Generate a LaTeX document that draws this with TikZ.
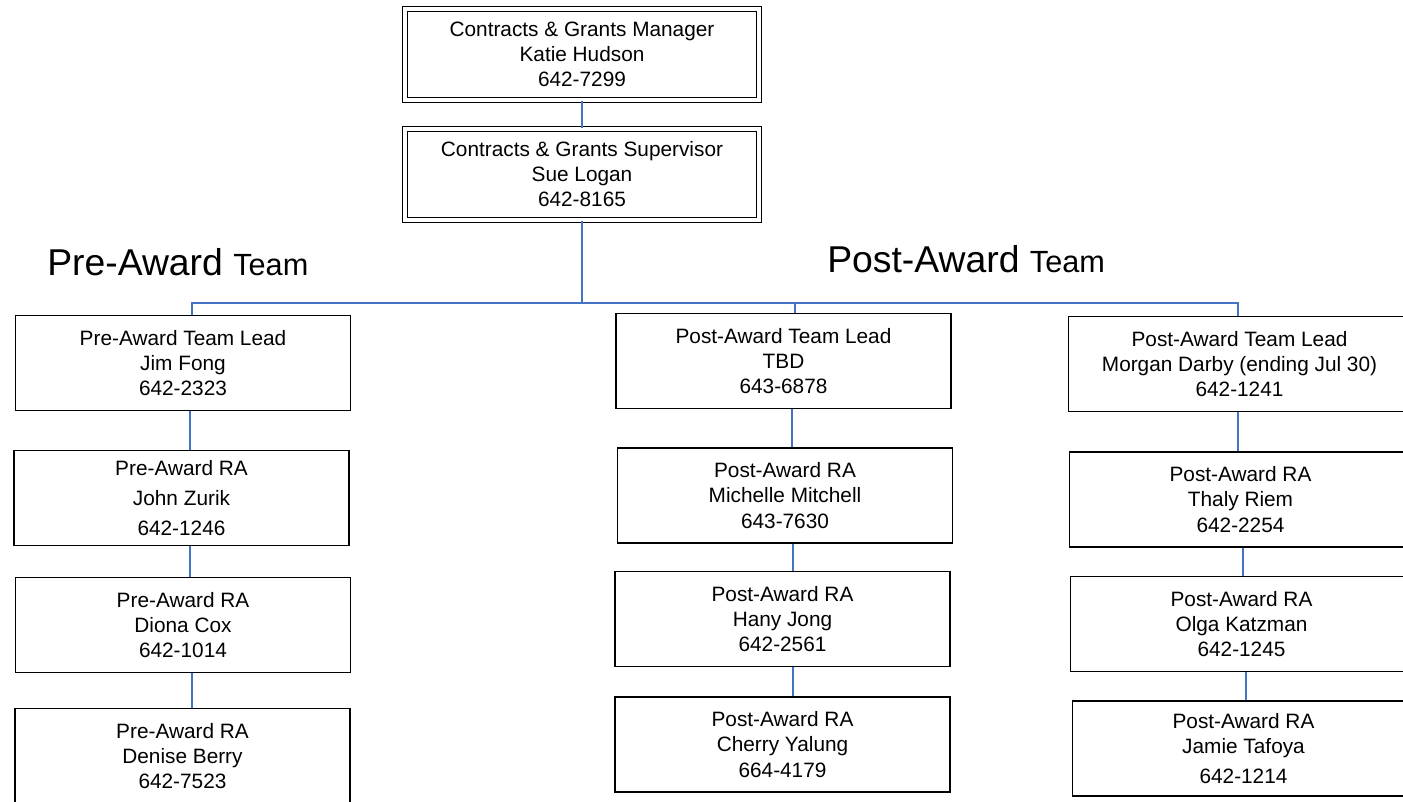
\documentclass[tikz,border=0pt]{standalone}
\usepackage{fontspec}
\setmainfont{Liberation Sans}
\definecolor{connblue}{HTML}{4472C4}
\newcommand\boxfont{\fontsize{15.6}{18.8}\selectfont}
\newcommand\vconn[3]{%
  \coordinate (#1-#2) at ([xshift=#3]#1.south);
  \draw[conn] (#1-#2) -- (#1-#2 |- #2.north);}
\begin{document}
\begin{tikzpicture}[x=0.75pt,y=-0.75pt,
  box/.style={draw=black, line width=1.1pt, minimum width=335*0.75pt,
    minimum height=95*0.75pt, align=center, inner sep=0pt, font=\boxfont},
  rbox/.style={box, minimum width=342*0.75pt},
  dbox/.style={box, double, double distance=2.6pt,
    minimum width=354*0.75pt, minimum height=91*0.75pt},
  conn/.style={draw=connblue, line width=1.1pt},
  head/.style={anchor=base west, inner sep=0pt}]
\useasboundingbox (0,0) rectangle (1403,801);
\clip (0,0) rectangle (1403,801);

% top
\node[dbox] (mgr) at (582,54.5) {Contracts \& Grants Manager\\Katie Hudson\\642-7299};
\node[dbox] (sup) at (582,174.3) {Contracts \& Grants Supervisor\\Sue Logan\\642-8165};

% headings
\node[head] (preh) at (47,275) {\fontsize{28}{33}\selectfont Pre-Award \fontsize{23}{27}\selectfont Team};
\node[head] (posth) at (827,272) {\fontsize{28}{33}\selectfont Post-Award \fontsize{23}{27}\selectfont Team};

% pre-award column
\node[box] (prl) at (183,363) {Pre-Award Team Lead\\Jim Fong\\642-2323};
\node[box] (pra1) at (181.5,498) {Pre-Award RA\\[3.75pt]John Zurik\\[3.75pt]642-1246};
\node[box] (pra2) at (183,625) {Pre-Award RA\\Diona Cox\\642-1014};
\node[box] (pra3) at (182.5,756) {Pre-Award RA\\Denise Berry\\642-7523};

% post-award column 1
\node[box] (pol1) at (783.5,361) {Post-Award Team Lead\\TBD\\643-6878};
\node[box] (po11) at (785,495.5) {Post-Award RA\\Michelle Mitchell\\643-7630};
\node[box] (po12) at (782.5,619) {Post-Award RA\\Hany Jong\\642-2561};
\node[box] (po13) at (782.5,744.5) {Post-Award RA\\Cherry Yalung\\664-4179};

% post-award column 2
\node[rbox] (pol2) at (1239.5,364) {Post-Award Team Lead\\Morgan Darby (ending Jul 30)\\642-1241};
\node[rbox] (po21) at (1240.5,499.5) {Post-Award RA\\Thaly Riem\\642-2254};
\node[rbox] (po22) at (1241.5,624) {Post-Award RA\\Olga Katzman\\642-1245};
\node[rbox] (po23) at (1243.5,748.5) {Post-Award RA\\Jamie Tafoya\\[3.75pt]642-1214};

% bus
\coordinate (bus) at (582,303);
\draw[conn] (mgr.south) -- (sup.north);
\draw[conn] (sup.south) -- (bus);
\coordinate (prltop) at ([xshift=6.75pt]prl.north);
\coordinate (pol1top) at ([xshift=8.6pt]pol1.north);
\coordinate (pol2top) at ([xshift=-1.1pt]pol2.north);
\draw[conn] (prltop) |- (bus) -| (pol2top);
\draw[conn] (pol1top) -- (pol1top |- bus);

% vertical links
\vconn{prl}{pra1}{5.25pt}
\vconn{pra1}{pra2}{6.4pt}
\vconn{pra2}{pra3}{6.75pt}
\vconn{pol1}{po11}{6.4pt}
\vconn{po11}{po12}{6pt}
\vconn{po12}{po13}{7.9pt}
\vconn{pol2}{po21}{-1.1pt}
\vconn{po21}{po22}{1.9pt}
\vconn{po22}{po23}{3.4pt}
\end{tikzpicture}
\end{document}
